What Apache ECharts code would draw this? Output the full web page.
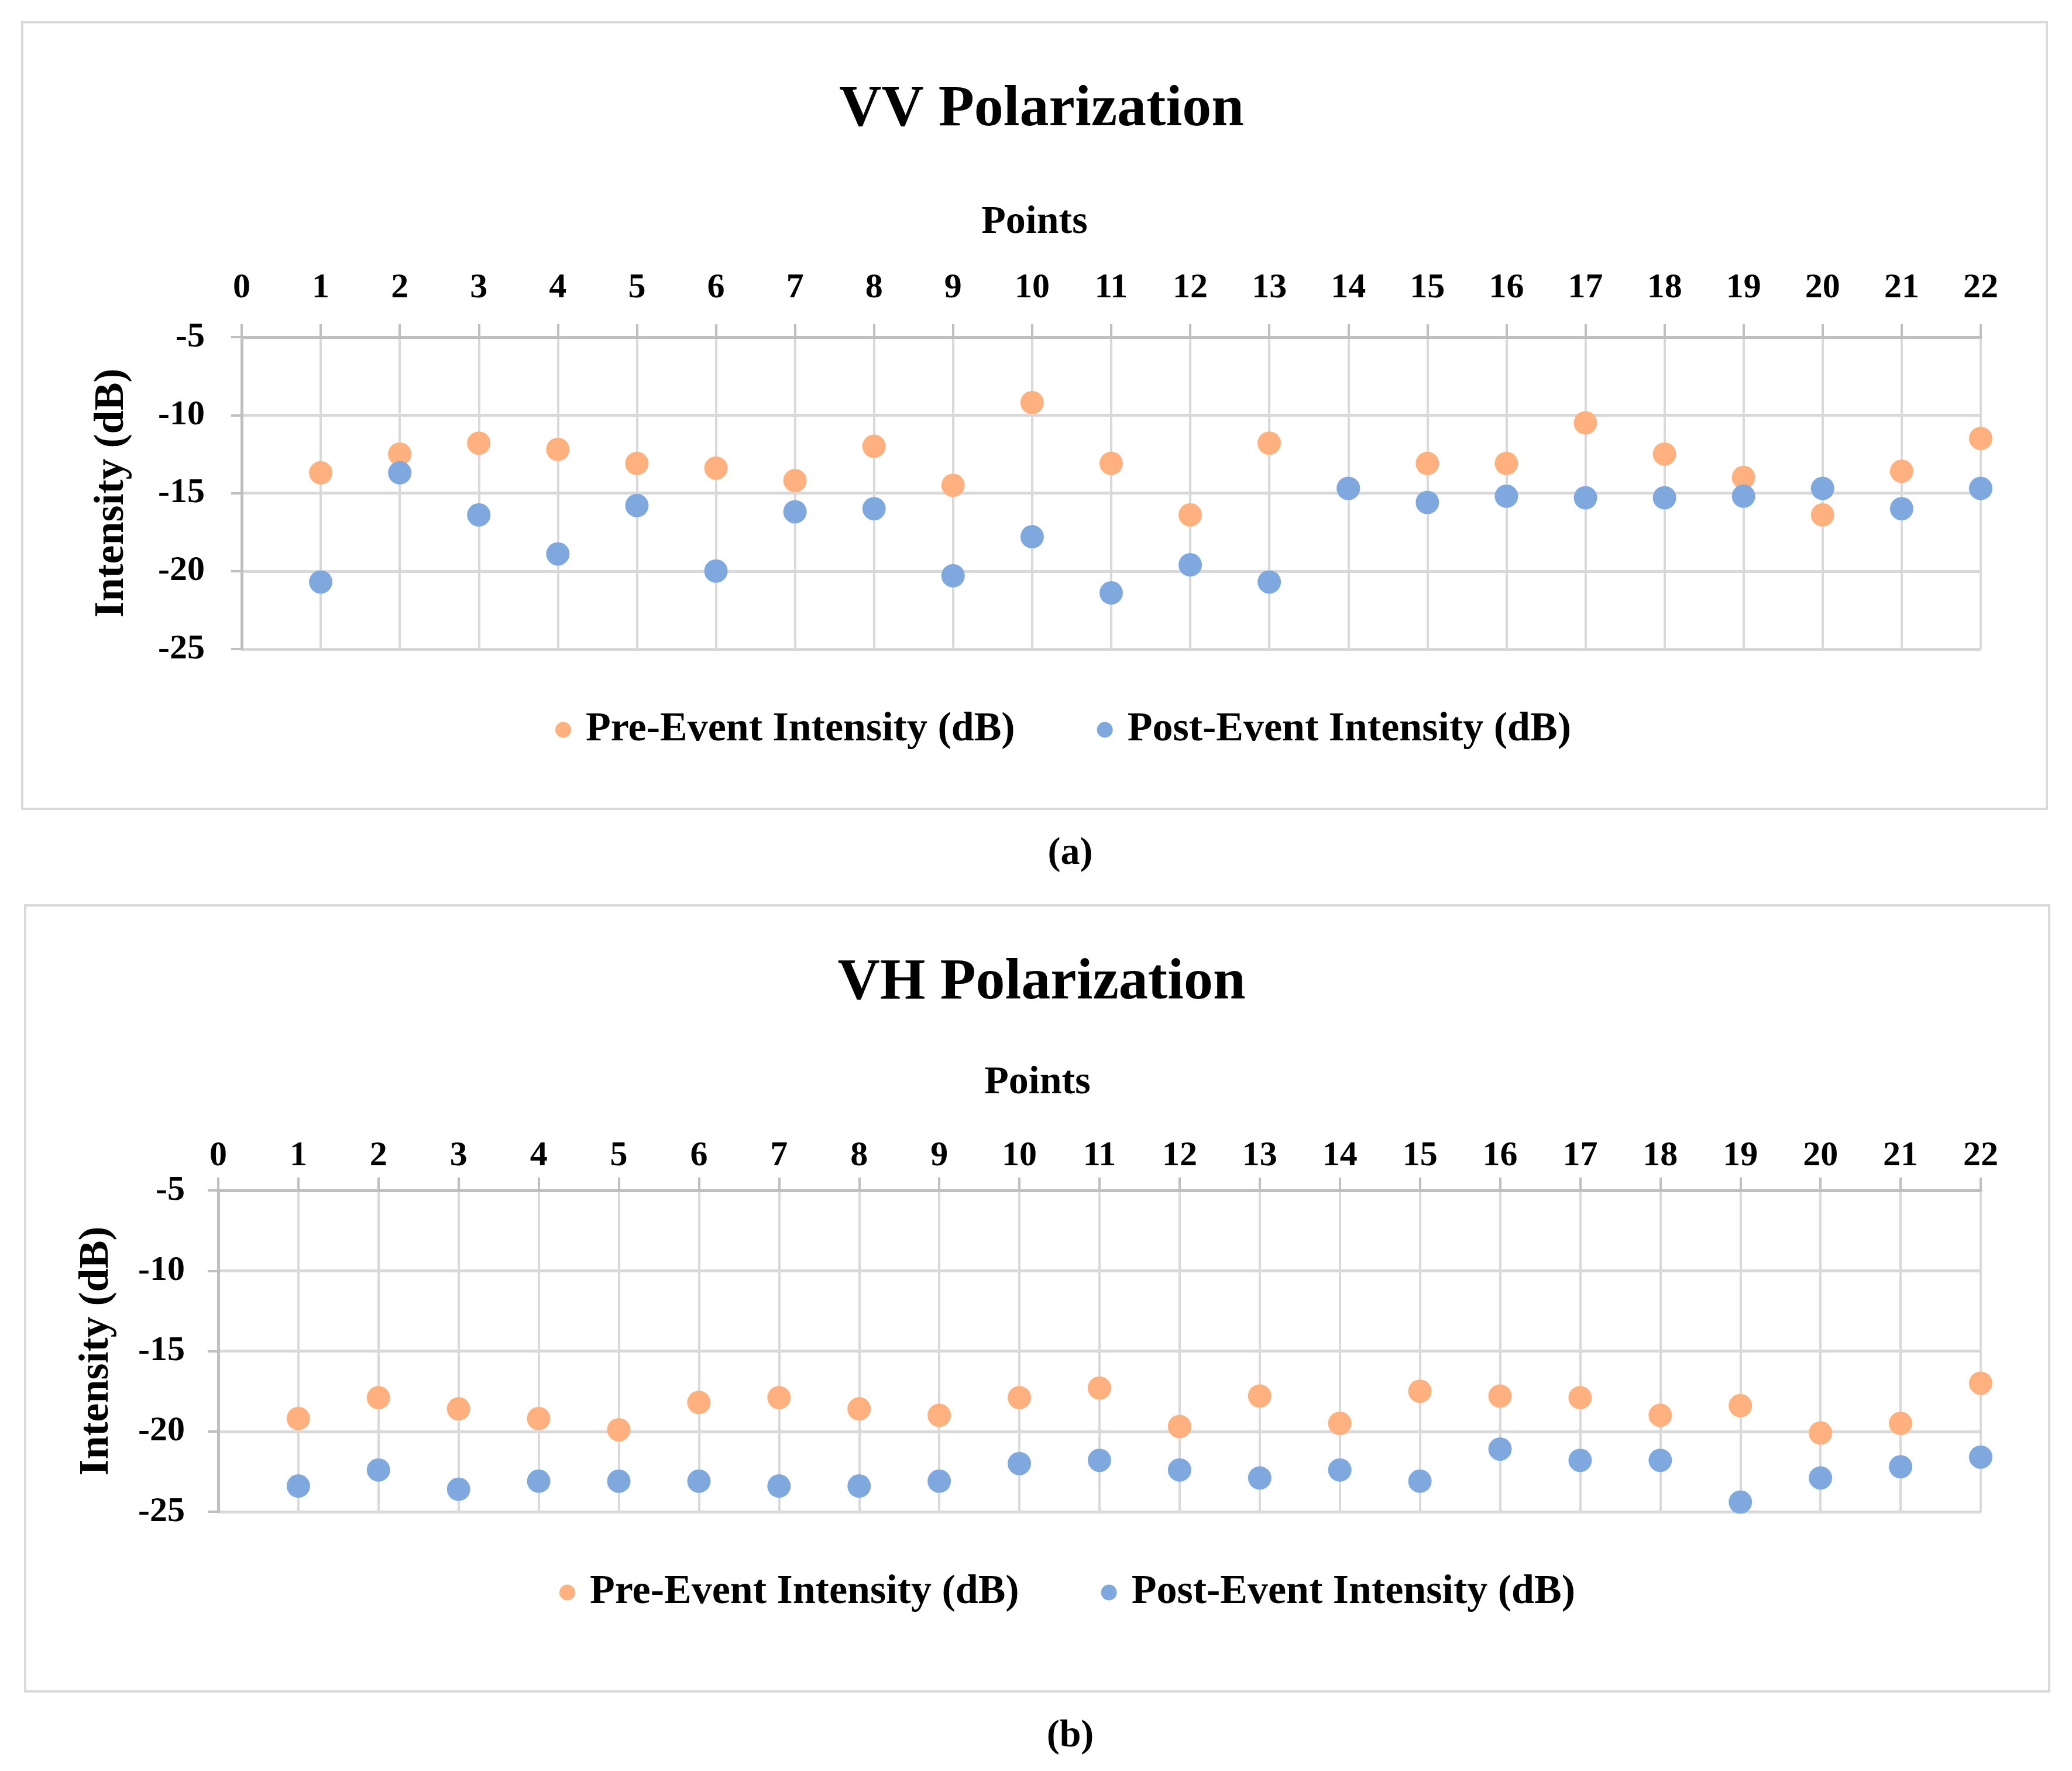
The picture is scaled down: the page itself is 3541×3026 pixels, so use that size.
<!DOCTYPE html>
<html>
<head>
<meta charset="utf-8">
<script src="https://cdn.jsdelivr.net/npm/echarts@6/dist/echarts.min.js"></script>
<style>
html,body{margin:0;padding:0;background:#fff;}
#wrap{position:relative;width:3541px;height:3026px;background:#fff;}
#chartA{position:absolute;left:0;top:0;width:3541px;height:1513px;}
#chartB{position:absolute;left:0;top:1513px;width:3541px;height:1513px;}
</style>
</head>
<body>
<div id="wrap">
<div id="chartA"></div>
<div id="chartB"></div>
</div>
<script>
const points = [1,2,3,4,5,6,7,8,9,10,11,12,13,14,15,16,17,18,19,20,21,22];
const xTicks = [0,1,2,3,4,5,6,7,8,9,10,11,12,13,14,15,16,17,18,19,20,21,22];
const yTicks = [-25,-20,-15,-10,-5];
const vvPre  = [-13.7,-12.5,-11.8,-12.2,-13.1,-13.4,-14.2,-12.0,-14.5,-9.2,-13.1,-16.4,-11.8,-14.7,-13.1,-13.1,-10.5,-12.5,-14.0,-16.4,-13.6,-11.5];
const vvPost = [-20.7,-13.7,-16.4,-18.9,-15.8,-20.0,-16.2,-16.0,-20.3,-17.8,-21.4,-19.6,-20.7,-14.7,-15.6,-15.2,-15.3,-15.3,-15.2,-14.7,-16.0,-14.7];
const vhPre  = [-19.2,-17.9,-18.6,-19.2,-19.9,-18.2,-17.9,-18.6,-19.0,-17.9,-17.3,-19.7,-17.8,-19.5,-17.5,-17.8,-17.9,-19.0,-18.4,-20.1,-19.5,-17.0];
const vhPost = [-23.4,-22.4,-23.6,-23.1,-23.1,-23.1,-23.4,-23.4,-23.1,-22.0,-21.8,-22.4,-22.9,-22.4,-23.1,-21.1,-21.8,-21.8,-24.4,-22.9,-22.2,-21.6];
const seriesNames = ['Pre-Event Intensity (dB)','Post-Event Intensity (dB)'];
const titles = ['VV Polarization','VH Polarization'];
const captions = ['(a)','(b)'];
const xAxisTitle = 'Points';
const yAxisTitle = 'Intensity (dB)';

const FONT = '"Liberation Serif", "DejaVu Serif", serif';
const ORANGE = '#FFB07F';
const BLUE = '#7FA8DF';
const AXIS = '#bfbfbf';
const GRID = '#d9d9d9';

const txt = (size) => ({fontFamily: FONT, fontWeight: 'bold', fontSize: size, color: '#000'});
const pairs = (ys) => points.map((p, i) => [p, ys[i]]);

function buildOption(L, title, caption, pre, post) {
  return {
    backgroundColor: 'transparent',
    animation: false,
    title: [
      {text: title, left: L.titleX, top: L.titleY, textAlign: 'center', textVerticalAlign: 'middle', textStyle: txt(100)},
      {text: xAxisTitle, left: L.pointsX, top: L.pointsY, textAlign: 'center', textVerticalAlign: 'middle', textStyle: txt(68)},
      {text: caption, left: L.capX, top: L.capY, textAlign: 'center', textVerticalAlign: 'middle', textStyle: txt(66)}
    ],
    legend: {
      left: L.legendX, top: L.legendY, icon: 'circle', itemWidth: 27, itemHeight: 27, itemGap: 140,
      data: seriesNames, textStyle: Object.assign({padding: [0, 0, 0, 20]}, txt(70)),
      selectedMode: false
    },
    grid: L.grid,
    xAxis: {
      type: 'value', position: 'top',
      min: xTicks[0], max: xTicks[xTicks.length - 1], interval: 1,
      axisLine: {show: true, onZero: false, lineStyle: {color: AXIS, width: 5}},
      axisTick: {show: true, length: 22, lineStyle: {color: AXIS, width: 4}},
      axisLabel: Object.assign({margin: L.xLabelMargin}, txt(60)),
      splitLine: {show: true, lineStyle: {color: GRID, width: 4}}
    },
    yAxis: {
      type: 'value',
      min: yTicks[0], max: yTicks[yTicks.length - 1], interval: 5,
      axisLine: {show: true, onZero: false, lineStyle: {color: AXIS, width: 5}},
      axisTick: {show: true, length: 18, lineStyle: {color: AXIS, width: 4}},
      axisLabel: Object.assign({margin: L.yLabelMargin}, txt(60)),
      splitLine: {show: true, lineStyle: {color: GRID, width: 5}},
      name: yAxisTitle, nameLocation: 'middle', nameRotate: 90, nameGap: L.yNameGap,
      nameTextStyle: txt(72)
    },
    series: [
      {name: seriesNames[0], type: 'scatter', symbolSize: 40, itemStyle: {color: ORANGE, opacity: 1}, data: pairs(pre)},
      {name: seriesNames[1], type: 'scatter', symbolSize: 40, itemStyle: {color: BLUE, opacity: 1}, data: pairs(post)}
    ],
    graphic: [
      {type: 'rect', shape: L.box, style: {fill: 'none', stroke: GRID, lineWidth: 4}, z: -1}
    ]
  };
}

const layoutA = {
  titleX: 1775, titleY: 183, pointsX: 1763, pointsY: 375, capX: 1824, capY: 1454,
  legendX: 944, legendY: 1207,
  grid: {left: 413, top: 576, width: 2972, height: 533},
  xLabelMargin: 54, yLabelMargin: 63, yNameGap: 186,
  box: {x: 38, y: 38, width: 3460, height: 1344}
};
const offB = 1513;
const layoutB = {
  titleX: 1775, titleY: 1675 - offB, pointsX: 1768, pointsY: 1845 - offB, capX: 1824, capY: 2962 - offB,
  legendX: 951, legendY: 2681 - offB,
  grid: {left: 373, top: 2034 - offB, width: 3012, height: 549},
  xLabelMargin: 29, yLabelMargin: 57, yNameGap: 172,
  box: {x: 43, y: 1547 - offB, width: 3459, height: 1343}
};

const chartA = echarts.init(document.getElementById('chartA'));
chartA.setOption(buildOption(layoutA, titles[0], captions[0], vvPre, vvPost));
const chartB = echarts.init(document.getElementById('chartB'));
chartB.setOption(buildOption(layoutB, titles[1], captions[1], vhPre, vhPost));
</script>
</body>
</html>
